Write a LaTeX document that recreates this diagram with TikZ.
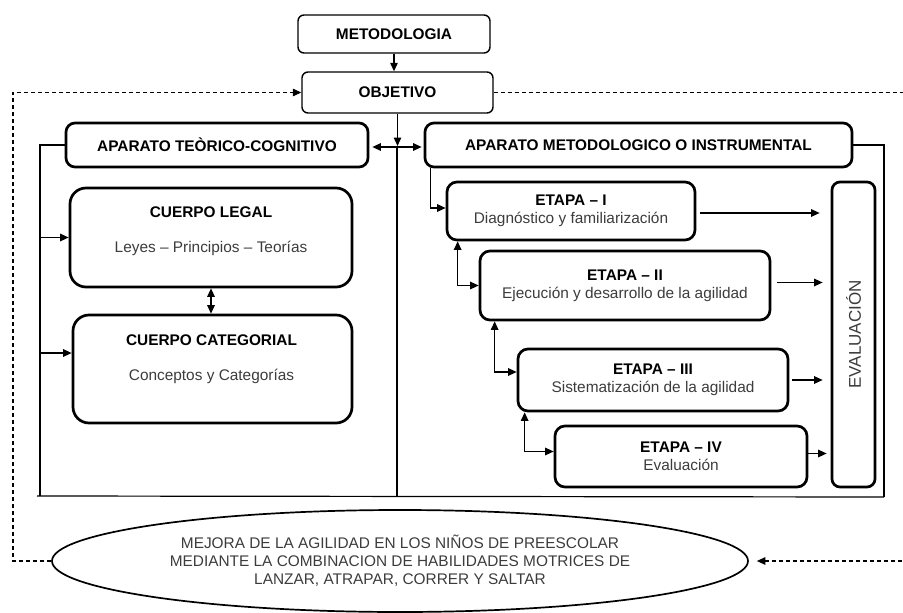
\documentclass[tikz,border=0pt]{standalone}
\usepackage{fontspec}
\setmainfont{Liberation Sans}
\usetikzlibrary{arrows.meta,shapes.geometric}
\definecolor{gristexto}{RGB}{60,60,60}

\tikzset{
  caja/.style={draw, rounded corners=6pt, line width=1.4pt, inner sep=0pt, align=center,
    font=\fontsize{15.4}{18}\selectfont\bfseries},
  cajagruesa/.style={caja, line width=2.7pt, rounded corners=9pt},
  etapa/.style={cajagruesa, rounded corners=10pt, font=\fontsize{15.4}{18}\selectfont},
  texto/.style={align=center, inner sep=0pt, font=\fontsize{15.4}{18}\selectfont},
  flecha/.style={line width=1.3pt, -{Triangle[length=8.5pt,width=7.5pt]}},
  doble/.style={line width=1.3pt, {Triangle[length=8.5pt,width=7.5pt]}-{Triangle[length=8.5pt,width=7.5pt]}},
  marco/.style={line width=1.2pt},
  discont/.style={line width=1.3pt, dash pattern=on 4pt off 3pt, -{Triangle[length=8.5pt,width=7.5pt]}}
}

\begin{document}
\begin{tikzpicture}[x=1pt, y=-1pt]
    \useasboundingbox (0,0) rectangle (903,613);

    % Nodes
    \node[caja, minimum width=192, minimum height=38] (metod) at (394,34) {METODOLOGIA};
    \node[caja, minimum width=191, minimum height=41] (obj) at (397.5,92.5) {OBJETIVO};
    \node[cajagruesa, minimum width=302, minimum height=44] (teo) at (217,145) {APARATO TEÒRICO-COGNITIVO};
    \node[cajagruesa, minimum width=427, minimum height=44] (met) at (638.5,145) {APARATO METODOLOGICO O INSTRUMENTAL};

    % Left side
    \node[cajagruesa, rounded corners=16pt, minimum width=282, minimum height=99] (legal) at (211,237.5) {};
    \node[texto] (legaltxt) at (211,231) {\textbf{CUERPO LEGAL}\\[17pt]{\color{gristexto}Leyes – Principios – Teorías}};
    \node[cajagruesa, rounded corners=16pt, minimum width=279, minimum height=108] (categ) at (212.5,369) {};
    \node[texto] (categtxt) at (211.5,359) {\textbf{CUERPO CATEGORIAL}\\[17pt]{\color{gristexto}Conceptos y Categorías}};

    % Right side
    \node[etapa, minimum width=248, minimum height=58] (e1) at (571,211)
        {\textbf{ETAPA – I}\\{\color{gristexto}Diagnóstico y familiarización}};
    \node[etapa, minimum width=290, minimum height=69] (e2) at (625,285.5)
        {\textbf{ETAPA – II}\\{\color{gristexto}Ejecución y desarrollo de la agilidad}};
    \node[etapa, minimum width=270, minimum height=62] (e3) at (653,380)
        {\textbf{ETAPA – III}\\{\color{gristexto}Sistematización de la agilidad}};
    \node[etapa, minimum width=252, minimum height=61] (e4) at (681,456.5)
        {\textbf{ETAPA – IV}\\{\color{gristexto}Evaluación}};
    \node[cajagruesa, rounded corners=8pt, minimum width=305, minimum height=43, rotate=90,
        font=\fontsize{17}{20}\selectfont, text=gristexto] (eval) at (853.5,334.5) {EVALUACIÓN};

    % Goal
    \node[ellipse, draw, line width=1.7pt, minimum width=696, minimum height=102, inner sep=0pt,
        align=center, text=gristexto, font=\fontsize{15.4}{18}\selectfont] (meta) at (400,561)
        {MEJORA DE LA AGILIDAD EN LOS NIÑOS DE PREESCOLAR\\
         MEDIANTE LA COMBINACION DE HABILIDADES MOTRICES DE\\
         LANZAR, ATRAPAR, CORRER Y SALTAR};

    % Edges
    \coordinate (cruce) at (397,147);
    \coordinate (fizq) at (40,496);
    \coordinate (fder) at (884,497);
    \draw[flecha] (metod.south) -- (metod.south |- obj.north);
    \draw[flecha, shorten >=1pt] (obj.south) -- (obj.south |- cruce);
    \draw[doble, shorten <=3pt, shorten >=2pt] (teo.east |- cruce) -- (met.west |- cruce);

    % Frames
    \draw[marco] (teo.west) -| (fizq);
    \draw[marco] (met.east) -| (fder);
    \draw[marco] ([xshift=-3pt]fizq) -- (fder);
    \draw[marco] (cruce) -- (cruce |- fizq);

    \coordinate (c2) at ([yshift=16pt]categ.west);
    \draw[flecha] (legal.west -| fizq) -- (legal.west);
    \draw[flecha] (c2 -| fizq) -- (c2);
    \draw[doble] (legal.south) -- (legal.south |- categ.north);

    \draw[flecha] ([xshift=7pt]met.south west) |- ([yshift=3pt]e1.west);
    \draw[doble] ([xshift=12pt]e1.south west) |- (e2.west);
    \draw[doble] ([xshift=16pt]e2.south west) |- ([yshift=8pt]e3.west);
    \draw[doble] ([xshift=8pt]e3.south west) |- ([yshift=5pt]e4.west);

    \draw[flecha, shorten <=4pt, shorten >=11pt] ([yshift=-2pt]e1.east) -- ([yshift=-2pt]e1.east -| eval.north);
    \draw[flecha, shorten <=6pt, shorten >=8pt] ([yshift=3pt]e2.east) -- ([yshift=3pt]e2.east -| eval.north);
    \draw[flecha, shorten <=3pt, shorten >=8pt] (e3.east) -- (e3.east -| eval.north);
    \draw[flecha, shorten >=4pt] ([yshift=3pt]e4.east) -- ([yshift=3pt]e4.east -| eval.north);

    % Dashed loop
    \coordinate (dizq) at (13,557);
    \coordinate (dder) at (915,561);
    \draw[discont] (meta.west) -- (meta.west -| dizq) |- (obj.west);
    \draw[discont, shorten >=8pt] (obj.east) -| (dder) -- (meta.east);
\end{tikzpicture}
\end{document}
